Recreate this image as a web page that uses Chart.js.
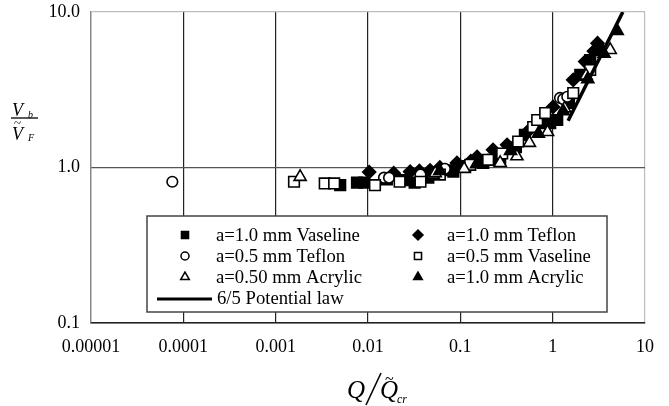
<!DOCTYPE html>
<html><head><meta charset="utf-8">
<script src="https://cdn.jsdelivr.net/npm/chart.js@4.4.0/dist/chart.umd.min.js"></script>
<style>html,body{margin:0;padding:0;background:#fff;}</style>
</head><body>
<canvas id="c" width="669" height="406"></canvas>
<script>
// ---- data ----
const xTicks = [0.00001, 0.0001, 0.001, 0.01, 0.1, 1, 10];
const xTickLabels = ['0.00001', '0.0001', '0.001', '0.01', '0.1', '1', '10'];
const yTicks = [0.1, 1, 10];
const yTickLabels = ['0.1', '1.0', '10.0'];

const seriesNames = ['a=1.0 mm Vaseline', 'a=1.0 mm Teflon', 'a=0.5 mm Teflon',
  'a=0.5 mm Vaseline', 'a=0.50 mm Acrylic', 'a=1.0 mm Acrylic', '6/5 Potential law'];

const vas10X = [0.0050, 0.0076, 0.0091, 0.016, 0.024, 0.032, 0.045, 0.072, 0.084, 0.113, 0.177, 0.226, 0.27, 0.40, 0.50, 0.79, 0.94, 1.12, 1.5, 1.99, 2.55, 3.1];
const vas10Y = [0.77, 0.80, 0.80, 0.84, 0.83, 0.80, 0.86, 0.96, 0.94, 1.02, 1.07, 1.12, 1.12, 1.35, 1.62, 1.93, 1.93, 2.02, 2.6, 3.94, 4.91, 5.70];

const tef10X = [0.0103, 0.019, 0.0286, 0.036, 0.047, 0.060, 0.092, 0.13, 0.152, 0.226, 0.321, 0.529, 0.75, 1.01, 1.67, 2.25, 2.8, 3.06];
const tef10Y = [0.935, 0.92, 0.94, 0.95, 0.96, 1.0, 1.07, 1.10, 1.17, 1.30, 1.40, 1.69, 2.0, 2.45, 3.66, 4.8, 5.6, 6.3];

const tef05X = [0.000076, 0.0149, 0.0169, 0.037, 0.068, 1.2, 1.3, 1.44];
const tef05Y = [0.81, 0.86, 0.86, 0.90, 0.98, 2.80, 2.75, 2.85];

const vas05X = [0.00158, 0.0034, 0.0043, 0.0119, 0.022, 0.037, 0.060, 0.128, 0.20, 0.284, 0.423, 0.615, 0.68, 0.83, 1.67, 2.55];
const vas05Y = [0.81, 0.79, 0.79, 0.77, 0.81, 0.81, 0.90, 1.04, 1.12, 1.23, 1.47, 1.82, 2.02, 2.24, 3.01, 4.24];

const acr05X = [0.00184, 0.0507, 0.0535, 0.11, 0.27, 0.41, 0.56, 0.88, 1.35, 2.3, 4.2];
const acr05Y = [0.87, 0.90, 0.92, 0.98, 1.07, 1.18, 1.44, 1.69, 2.4, 3.9, 5.7];

const acr10X = [0.06, 0.15, 0.35, 0.7, 1.3, 2.4, 3.6, 5.0];
const acr10Y = [0.95, 1.05, 1.28, 1.65, 2.3, 3.7, 5.4, 7.55];

const lawX = [1.47, 5.75];
const lawY = [2.0, 10.0];

// ---- build ----
const pts = (xs, ys) => xs.map((x, i) => ({x: x, y: ys[i]}));
const FONT = "'Liberation Serif', 'Times New Roman', serif";

const styles = [
  {pointStyle: 'rect', pointRadius: 7.5, fill: '#000'},
  {pointStyle: 'rectRot', pointRadius: 6.5, fill: '#000'},
  {pointStyle: 'circle', pointRadius: 5.3, fill: '#fff'},
  {pointStyle: 'rect', pointRadius: 7.5, fill: '#fff'},
  {pointStyle: 'triangle', pointRadius: 7, fill: '#fff'},
  {pointStyle: 'triangle', pointRadius: 7, fill: '#000'}
];
const seriesData = [pts(vas10X, vas10Y), pts(tef10X, tef10Y), pts(tef05X, tef05Y),
  pts(vas05X, vas05Y), pts(acr05X, acr05Y), pts(acr10X, acr10Y)];

const datasets = seriesData.map((d, i) => ({
  type: 'scatter',
  label: seriesNames[i],
  data: d,
  pointStyle: styles[i].pointStyle,
  pointRadius: styles[i].pointRadius,
  pointHoverRadius: styles[i].pointRadius,
  pointBackgroundColor: styles[i].fill,
  pointBorderColor: '#000',
  pointBorderWidth: 1.6,
  order: 10 - i
}));
datasets.push({
  type: 'line',
  label: seriesNames[6],
  data: pts(lawX, lawY),
  borderColor: '#000',
  borderWidth: 3.5,
  pointRadius: 0,
  fill: false,
  order: 1
});

function drawMarker(ctx, st, x, y, r) {
  ctx.save();
  ctx.fillStyle = st.fill;
  ctx.strokeStyle = '#000';
  ctx.lineWidth = 1.5;
  if (Chart.helpers && Chart.helpers.drawPoint) {
    Chart.helpers.drawPoint(ctx, {pointStyle: st.pointStyle, radius: r, rotation: 0, borderWidth: 1.5}, x, y);
  }
  ctx.restore();
}

const decorPlugin = {
  id: 'decor',
  beforeDatasetsDraw(chart) {
    const ctx = chart.ctx;
    // legend box
    const bx = 147, by = 216, bw = 460, bh = 96;
    ctx.save();
    ctx.fillStyle = '#fff';
    ctx.fillRect(bx, by, bw, bh);
    ctx.strokeStyle = '#444';
    ctx.lineWidth = 1.5;
    ctx.strokeRect(bx, by, bw, bh);
    ctx.fillStyle = '#000';
    ctx.font = '18.7px ' + FONT;
    ctx.textBaseline = 'middle';
    ctx.textAlign = 'left';
    const rows = [235, 256, 277];
    const order = [[0, 1], [2, 3], [4, 5]];
    order.forEach((pair, ri) => {
      pair.forEach((si, ci) => {
        const mx = ci === 0 ? 185 : 418;
        const tx = ci === 0 ? 216 : 447;
        const r = styles[si].pointStyle === 'circle' ? 4 : 5;
        drawMarker(ctx, styles[si], mx, rows[ri], r);
        ctx.fillStyle = '#000';
        ctx.fillText(seriesNames[si], tx, rows[ri] + 1);
      });
    });
    ctx.strokeStyle = '#000';
    ctx.lineWidth = 3;
    ctx.beginPath();
    ctx.moveTo(157, 299); ctx.lineTo(212, 299); ctx.stroke();
    ctx.fillText(seriesNames[6], 217, 299);
    ctx.restore();
  },
  afterDraw(chart) {
    const ctx = chart.ctx;
    ctx.save();
    ctx.fillStyle = '#000';
    ctx.textBaseline = 'alphabetic';
    // y title: Vb / ~VF
    ctx.font = 'italic 18px ' + FONT;
    ctx.fillText('V', 12, 116);
    ctx.font = 'italic 10px ' + FONT;
    ctx.fillText('b', 28, 118);
    ctx.strokeStyle = '#000';
    ctx.lineWidth = 1.3;
    ctx.beginPath(); ctx.moveTo(11, 118); ctx.lineTo(38, 118); ctx.stroke();
    ctx.font = '13px ' + FONT;
    ctx.fillText('~', 14, 127);
    ctx.font = 'italic 18px ' + FONT;
    ctx.fillText('V', 12, 140);
    ctx.font = 'italic 10px ' + FONT;
    ctx.fillText('F', 28, 141);
    // x title: Q / ~Q cr
    ctx.font = 'italic 25px ' + FONT;
    ctx.fillText('Q', 347, 398);
    ctx.lineWidth = 1.6;
    ctx.beginPath(); ctx.moveTo(366, 405); ctx.lineTo(381, 373); ctx.stroke();
    ctx.fillText('Q', 380, 398);
    ctx.font = '16px ' + FONT;
    ctx.fillText('~', 385, 384);
    ctx.font = 'italic 12px ' + FONT;
    ctx.fillText('cr', 397, 403);
    ctx.restore();
  }
};

new Chart(document.getElementById('c'), {
  data: {datasets: datasets},
  options: {
    responsive: false,
    animation: false,
    devicePixelRatio: 1,
    layout: {padding: {left: 0, top: 12, right: 24, bottom: 0}},
    plugins: {legend: {display: false}, tooltip: {enabled: false}},
    scales: {
      x: {
        type: 'logarithmic',
        min: 0.00001, max: 10,
        afterBuildTicks: s => { s.ticks = xTicks.map(v => ({value: v})); },
        afterFit: s => { s.height = 83; s.paddingLeft = 0; s.paddingRight = 0; },
        ticks: {
          font: {family: FONT, size: 18}, color: '#000', padding: 13, maxRotation: 0, autoSkip: false,
          callback: (v, i) => xTickLabels[i]
        },
        grid: {
          drawTicks: false,
          lineWidth: 1.2,
          color: c => (c.tick && c.tick.value === 10) ? '#bdbdbd' : '#222'
        },
        border: {color: '#222', width: 1.5}
      },
      y: {
        type: 'logarithmic',
        min: 0.1, max: 10,
        afterBuildTicks: s => { s.ticks = yTicks.map(v => ({value: v})); },
        afterFit: s => { s.width = 91; s.paddingTop = 0; s.paddingBottom = 0; },
        ticks: {
          font: {family: FONT, size: 18}, color: '#000', padding: 11, autoSkip: false,
          callback: (v, i) => yTickLabels[i]
        },
        grid: {
          drawTicks: false,
          lineWidth: 1.2,
          color: c => (c.tick && c.tick.value === 10) ? '#bdbdbd' : '#555'
        },
        border: {color: '#888', width: 1.2}
      }
    }
  },
  plugins: [decorPlugin]
});
</script>
</body></html>
